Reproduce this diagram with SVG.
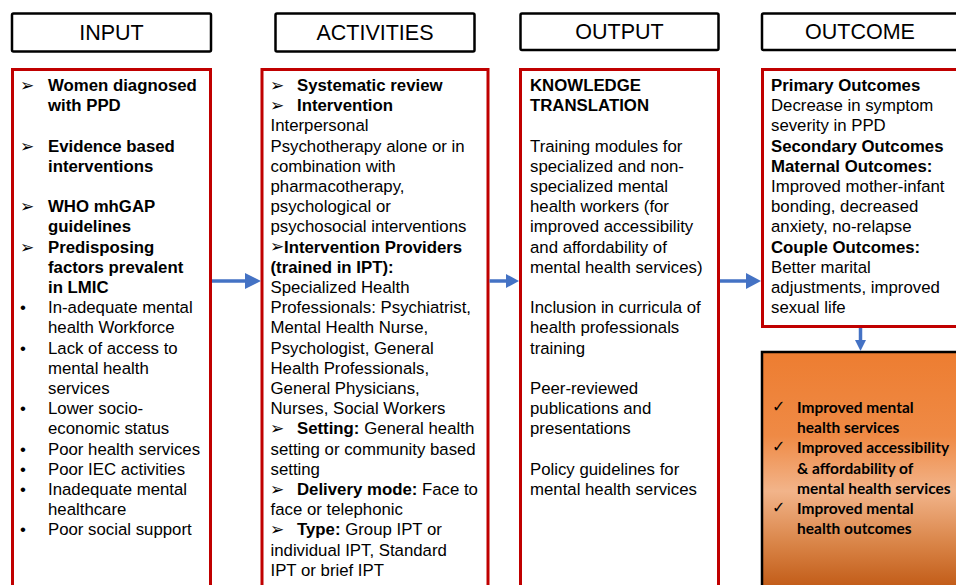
<svg xmlns="http://www.w3.org/2000/svg" width="956" height="585" viewBox="0 0 956 585">
<style>
.hdr{fill:#fff;stroke:#000;stroke-width:2.5}
.hdrt{font-family:"Liberation Sans",Arial,sans-serif;font-size:21.5px;fill:#000;text-anchor:middle}
.box{fill:#fff;stroke:#C00000;stroke-width:3}
.t{font-family:"Liberation Sans",Arial,sans-serif;font-size:16.8px;fill:#000}
.b{font-weight:bold}
.sym{font-family:"DejaVu Sans",sans-serif;font-size:17px;fill:#000}
.ck{font-family:"DejaVu Sans",sans-serif;font-size:16px;fill:#000}
.ob{font-family:Lato,"Liberation Sans",sans-serif;font-size:15.5px;font-weight:bold;fill:#000}
.conn{stroke:#4472C4;stroke-width:3.5;fill:none}
.head{fill:#4472C4}
</style>
<defs>
<linearGradient id="og" x1="0" y1="0" x2="0" y2="1">
<stop offset="0" stop-color="#ED7D31"/>
<stop offset="0.35" stop-color="#EF8A45"/>
<stop offset="0.58" stop-color="#F2B48A"/>
<stop offset="0.8" stop-color="#D98447"/>
<stop offset="1" stop-color="#BF5712"/>
</linearGradient>
</defs>

<g id="hdr-input"><rect class="hdr" x="12" y="13.5" width="199" height="38" rx="1.5"/><text class="hdrt" x="111.5" y="40">INPUT</text></g>
<g id="hdr-activities"><rect class="hdr" x="275.5" y="13.5" width="199" height="38" rx="1.5"/><text class="hdrt" x="375" y="40">ACTIVITIES</text></g>
<g id="hdr-output"><rect class="hdr" x="520.5" y="13.5" width="198" height="36.5" rx="1.5"/><text class="hdrt" x="619.5" y="39">OUTPUT</text></g>
<g id="hdr-outcome"><rect class="hdr" x="762" y="13.5" width="200" height="36.5" rx="1.5"/><text class="hdrt" x="860" y="39">OUTCOME</text></g>

<g id="input">
<rect class="box" x="12.5" y="69.5" width="198" height="530"/>
<g class="sym"><text x="20" y="91">➢</text><text x="20" y="151.6">➢</text><text x="20" y="212.2">➢</text><text x="20" y="252.6">➢</text></g>
<g class="t b">
<text x="48" y="91">Women diagnosed</text><text x="48" y="111.2">with PPD</text>
<text x="48" y="151.6">Evidence based</text><text x="48" y="171.8">interventions</text>
<text x="48" y="212.2">WHO mhGAP</text><text x="48" y="232.4">guidelines</text>
<text x="48" y="252.6">Predisposing</text><text x="48" y="272.8">factors prevalent</text><text x="48" y="293">in LMIC</text>
</g>
<g class="t">
<text x="20" y="313.2">•</text><text x="48" y="313.2">In-adequate mental</text><text x="48" y="333.4">health Workforce</text>
<text x="20" y="353.6">•</text><text x="48" y="353.6">Lack of access to</text><text x="48" y="373.8">mental health</text><text x="48" y="394">services</text>
<text x="20" y="414.2">•</text><text x="48" y="414.2">Lower socio-</text><text x="48" y="434.4">economic status</text>
<text x="20" y="454.6">•</text><text x="48" y="454.6">Poor health services</text>
<text x="20" y="474.8">•</text><text x="48" y="474.8">Poor IEC activities</text>
<text x="20" y="495">•</text><text x="48" y="495">Inadequate mental</text><text x="48" y="515.2">healthcare</text>
<text x="20" y="535.4">•</text><text x="48" y="535.4">Poor social support</text>
</g>
</g>

<g id="activities">
<rect class="box" x="262" y="69.5" width="226" height="530"/>
<g class="sym"><text x="270" y="90.5">➢</text><text x="270" y="110.7">➢</text><text x="270" y="252.1">➢</text><text x="270" y="433.9">➢</text><text x="270" y="494.5">➢</text><text x="270" y="534.9">➢</text></g>
<g class="t">
<text x="297" y="91" class="b">Systematic review</text>
<text x="297" y="111.2" class="b">Intervention</text>
<text x="270.5" y="131.4">Interpersonal</text>
<text x="270.5" y="151.6">Psychotherapy alone or in</text>
<text x="270.5" y="171.8">combination with</text>
<text x="270.5" y="192">pharmacotherapy,</text>
<text x="270.5" y="212.2">psychological or</text>
<text x="270.5" y="232.4">psychosocial interventions</text>
<text x="284" y="252.6" class="b">Intervention Providers</text>
<text x="270.5" y="272.8" class="b">(trained in IPT):</text>
<text x="270.5" y="293">Specialized  Health</text>
<text x="270.5" y="313.2">Professionals: Psychiatrist,</text>
<text x="270.5" y="333.4">Mental Health Nurse,</text>
<text x="270.5" y="353.6">Psychologist, General</text>
<text x="270.5" y="373.8">Health Professionals,</text>
<text x="270.5" y="394">General Physicians,</text>
<text x="270.5" y="414.2">Nurses, Social Workers</text>
<text x="297" y="434.4"><tspan class="b">Setting:</tspan> General health</text>
<text x="270.5" y="454.6">setting or community based</text>
<text x="270.5" y="474.8">setting</text>
<text x="297" y="495"><tspan class="b">Delivery mode:</tspan> Face to</text>
<text x="270.5" y="515.2">face or telephonic</text>
<text x="297" y="535.4"><tspan class="b">Type:</tspan> Group IPT or</text>
<text x="270.5" y="555.6">individual IPT, Standard</text>
<text x="270.5" y="575.8">IPT or brief IPT</text>
</g>
</g>

<g id="output">
<rect class="box" x="520.5" y="69.5" width="198" height="530"/>
<g class="t">
<text x="530" y="91" class="b">KNOWLEDGE</text>
<text x="530" y="111.2" class="b">TRANSLATION</text>
<text x="530" y="151.6">Training modules for</text>
<text x="530" y="171.8">specialized and non-</text>
<text x="530" y="192">specialized mental</text>
<text x="530" y="212.2">health workers (for</text>
<text x="530" y="232.4">improved accessibility</text>
<text x="530" y="252.6">and affordability of</text>
<text x="530" y="272.8">mental health services)</text>
<text x="530" y="313.2">Inclusion in curricula of</text>
<text x="530" y="333.4">health professionals</text>
<text x="530" y="353.6">training</text>
<text x="530" y="394">Peer-reviewed</text>
<text x="530" y="414.2">publications and</text>
<text x="530" y="434.4">presentations</text>
<text x="530" y="474.8">Policy guidelines for</text>
<text x="530" y="495">mental health services</text>
</g>
</g>

<g id="outcome">
<rect class="box" x="762.5" y="69.5" width="210" height="257"/>
<g class="t">
<text x="771" y="91" class="b">Primary Outcomes</text>
<text x="771" y="111.2">Decrease in symptom</text>
<text x="771" y="131.4">severity in PPD</text>
<text x="771" y="151.6" class="b">Secondary Outcomes</text>
<text x="771" y="171.8" class="b">Maternal Outcomes:</text>
<text x="771" y="192">Improved mother-infant</text>
<text x="771" y="212.2">bonding, decreased</text>
<text x="771" y="232.4">anxiety, no-relapse</text>
<text x="771" y="252.6" class="b">Couple Outcomes:</text>
<text x="771" y="272.8">Better marital</text>
<text x="771" y="293">adjustments, improved</text>
<text x="771" y="313.2">sexual life</text>
</g>
</g>

<g id="impact">
<rect x="762" y="352" width="210" height="240" fill="url(#og)" stroke="#000" stroke-width="2.5"/>
<g class="ck"><text x="772" y="412">✓</text><text x="772" y="452.4">✓</text><text x="772" y="513">✓</text></g>
<g class="ob">
<text x="797" y="413">Improved mental</text>
<text x="797" y="433.2">health services</text>
<text x="797" y="453.4">Improved accessibility</text>
<text x="797" y="473.6">&amp; affordability of</text>
<text x="797" y="493.8">mental health services</text>
<text x="797" y="514">Improved mental</text>
<text x="797" y="534.2">health outcomes</text>
</g>
</g>

<g id="connectors">
<line class="conn" x1="212" y1="281" x2="247" y2="281"/><polygon class="head" points="245,273 261,281 245,289"/>
<line class="conn" x1="489.5" y1="281" x2="508" y2="281"/><polygon class="head" points="506,274 519,281 506,288"/>
<line class="conn" x1="720" y1="281" x2="748" y2="281"/><polygon class="head" points="746,273 761,281 746,289"/>
<line class="conn" x1="860.5" y1="328" x2="860.5" y2="342"/><polygon class="head" points="855,340 860.5,351 866,340"/>
</g>
</svg>
